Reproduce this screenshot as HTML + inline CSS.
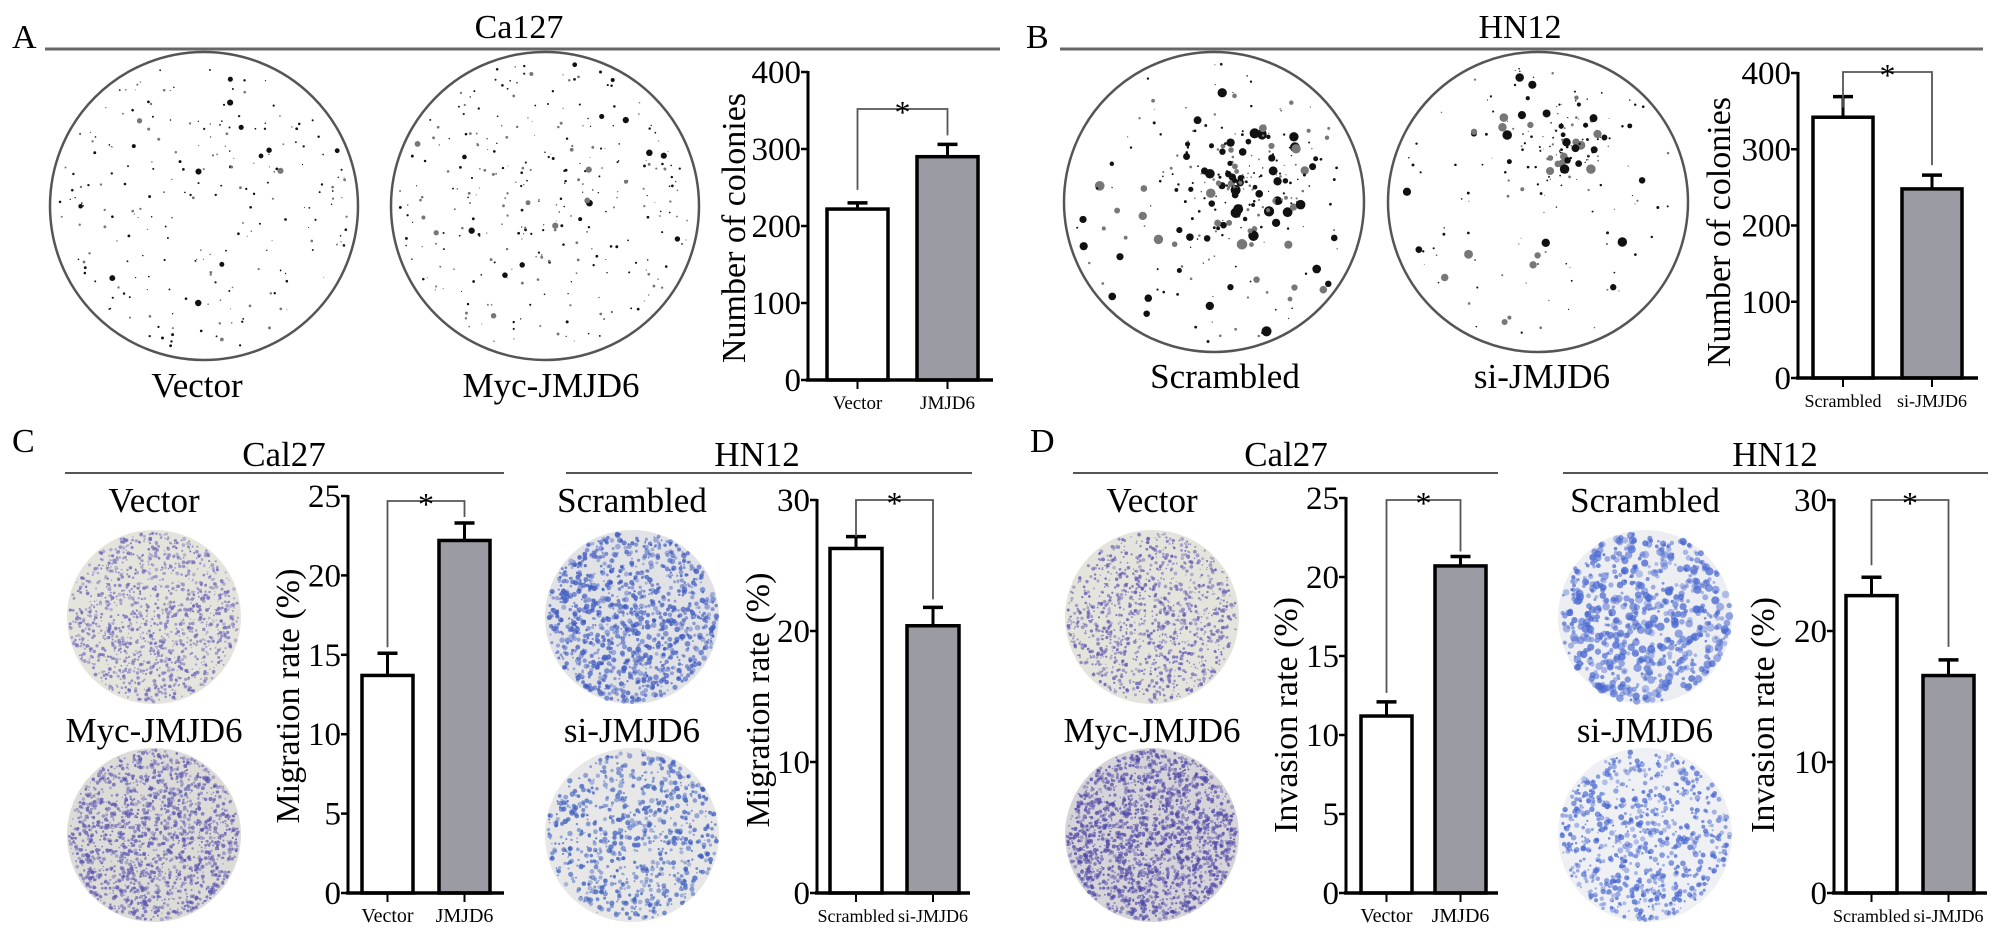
<!DOCTYPE html>
<html><head><meta charset="utf-8"><style>
html,body{margin:0;padding:0;background:#fff;}
svg{display:block;}
svg text{font-family:"Liberation Serif","DejaVu Serif",serif;}
</style></head><body>
<svg id="fig" width="2008" height="936" viewBox="0 0 2008 936" xmlns="http://www.w3.org/2000/svg" font-family="Liberation Serif, serif">
<g id="plates"></g>
<g id="headers">
 <text x="12" y="48" font-size="34">A</text>
 <text x="519" y="38" font-size="34" text-anchor="middle">Ca127</text>
 <line x1="45" y1="49" x2="1000" y2="49" stroke="#666" stroke-width="3"/>
 <text x="1026" y="48" font-size="34">B</text>
 <text x="1520" y="38" font-size="34" text-anchor="middle">HN12</text>
 <line x1="1060" y1="49" x2="1983" y2="49" stroke="#666" stroke-width="3"/>
 <text x="12" y="452" font-size="34">C</text>
 <text x="284" y="466" font-size="35" text-anchor="middle">Cal27</text>
 <line x1="65" y1="473" x2="504" y2="473" stroke="#555" stroke-width="2"/>
 <text x="757" y="466" font-size="35" text-anchor="middle">HN12</text>
 <line x1="566" y1="473" x2="972" y2="473" stroke="#555" stroke-width="2"/>
 <text x="1030" y="452" font-size="34">D</text>
 <text x="1286" y="466" font-size="35" text-anchor="middle">Cal27</text>
 <line x1="1073" y1="473" x2="1498" y2="473" stroke="#555" stroke-width="2"/>
 <text x="1775" y="466" font-size="35" text-anchor="middle">HN12</text>
 <line x1="1563" y1="473" x2="1988" y2="473" stroke="#555" stroke-width="2"/>
</g>
<g id="plate-labels">
 <text x="197" y="397" font-size="35" text-anchor="middle">Vector</text>
 <text x="551" y="397" font-size="35" text-anchor="middle">Myc-JMJD6</text>
 <text x="1225" y="388" font-size="35" text-anchor="middle">Scrambled</text>
 <text x="1542" y="388" font-size="35" text-anchor="middle">si-JMJD6</text>
 <text x="154" y="512" font-size="35" text-anchor="middle">Vector</text>
 <text x="154" y="742" font-size="35" text-anchor="middle">Myc-JMJD6</text>
 <text x="632" y="512" font-size="35" text-anchor="middle">Scrambled</text>
 <text x="632" y="742" font-size="35" text-anchor="middle">si-JMJD6</text>
 <text x="1152" y="512" font-size="35" text-anchor="middle">Vector</text>
 <text x="1152" y="742" font-size="35" text-anchor="middle">Myc-JMJD6</text>
 <text x="1645" y="512" font-size="35" text-anchor="middle">Scrambled</text>
 <text x="1645" y="742" font-size="35" text-anchor="middle">si-JMJD6</text>
</g>
<g id="charts"></g>
</svg>
<script>
// ---- chart data ----
const catsCal = ["Vector", "JMJD6"];
const catsHN = ["Scrambled", "si-JMJD6"];
const colA_values = [222, 290];
const colA_errors = [8, 16];
const colB_values = [342, 248];
const colB_errors = [27, 18];
const migC1_values = [13.7, 22.2];
const migC1_errors = [1.4, 1.1];
const migC2_values = [26.3, 20.4];
const migC2_errors = [0.9, 1.4];
const invD1_values = [11.2, 20.7];
const invD1_errors = [0.9, 0.6];
const invD2_values = [22.7, 16.6];
const invD2_errors = [1.4, 1.2];
const ticksColonies = [0, 100, 200, 300, 400];
const ticks25 = [0, 5, 10, 15, 20, 25];
const ticks30 = [0, 10, 20, 30];

const NS = "http://www.w3.org/2000/svg";
function mk(tag, attrs, parent) {
  const e = document.createElementNS(NS, tag);
  for (const k in attrs) e.setAttribute(k, attrs[k]);
  parent.appendChild(e);
  return e;
}

// ---- plates (texture, not data) ----
let seed = 12345;
function rnd() { seed = (seed * 1103515245 + 12345) % 2147483648; return seed / 2147483648; }
const platesG = document.getElementById('plates');
function colonyPlate(cx, cy, r, n, big, bigMax, clx, cly, clr, cln, name) {
  const g = mk('g', {}, platesG);
  
  
  mk('circle', {cx: cx, cy: cy, r: r, fill: '#fff', stroke: '#555', 'stroke-width': 2.5}, g);
  for (let i = 0; i < n + cln; i++) {
    let px, py;
    if (i < n) {
      const a = rnd() * Math.PI * 2, d = Math.sqrt(rnd()) * (r - 8);
      px = cx + Math.cos(a) * d; py = cy + Math.sin(a) * d;
    } else {
      const a = rnd() * Math.PI * 2, d = rnd() * clr;
      px = clx + Math.cos(a) * d; py = cly + Math.sin(a) * d;
    }
    const s = rnd() < big ? 1.8 + rnd() * bigMax : 0.5 + rnd() * 1.0;
    mk('circle', {cx: px, cy: py, r: s, fill: rnd() < 0.6 ? '#111' : '#777'}, g);
  }
}
colonyPlate(204, 206, 154, 230, 0.06, 1.5, 204, 206, 1, 0, 'colony-plate-vector');
colonyPlate(545, 206, 154, 300, 0.1, 1.8, 545, 206, 1, 0, 'colony-plate-myc-jmjd6');
colonyPlate(1214, 202, 150, 140, 0.3, 3.5, 1240, 180, 70, 160, 'colony-plate-scrambled');
colonyPlate(1538, 202, 150, 110, 0.2, 3, 1560, 150, 55, 90, 'colony-plate-si-jmjd6');

function stainPlate(cx, cy, r, n, col, bg, sz, name) {
  const g = mk('g', {}, platesG);
  
  
  mk('circle', {cx: cx, cy: cy, r: r, fill: bg}, g);
  for (let i = 0; i < n; i++) {
    const a = rnd() * Math.PI * 2, d = Math.sqrt(rnd()) * (r - 2);
    mk('circle', {cx: cx + Math.cos(a) * d, cy: cy + Math.sin(a) * d, r: sz * (0.4 + rnd() * 0.9), fill: col, opacity: 0.35 + rnd() * 0.45}, g);
  }
}
stainPlate(154, 617, 87, 1300, '#6a64b8', '#e4e3dc', 1.5, 'migration-plate-vector');
stainPlate(154, 835, 87, 1700, '#5a56b0', '#dcdbd8', 1.6, 'migration-plate-myc');
stainPlate(632, 617, 87, 1100, '#3f5ac0', '#e0e2e6', 2.2, 'migration-plate-scrambled');
stainPlate(632, 835, 87, 800, '#4060c0', '#e6e7e6', 2.1, 'migration-plate-si');
stainPlate(1152, 617, 87, 1200, '#5e58b0', '#e4e3dc', 1.5, 'invasion-plate-vector');
stainPlate(1152, 835, 87, 2000, '#4e48a8', '#d6d4d8', 1.7, 'invasion-plate-myc');
stainPlate(1645, 617, 87, 650, '#4a68d0', '#eceef2', 3.2, 'invasion-plate-scrambled');
stainPlate(1645, 835, 87, 750, '#4a68d0', '#eef0f4', 2.3, 'invasion-plate-si');

// ---- bar charts ----
const chartsG = document.getElementById('charts');
function barChart(cfg) {
  const g = mk('g', {}, chartsG);
  
  
  const maxV = cfg.ticks[cfg.ticks.length - 1];
  const yS = v => cfg.y0 - (v / maxV) * (cfg.y0 - cfg.yTop);
  const ax = mk('line', {x1: cfg.ax, y1: cfg.yTop - 1, x2: cfg.ax, y2: cfg.y0, stroke: '#000', 'stroke-width': 3}, g);
  
  
  cfg.ticks.forEach(t => {
    const y = yS(t);
    const tl = mk('line', {x1: cfg.ax - 7, y1: y, x2: cfg.ax, y2: y, stroke: '#000', 'stroke-width': 2.5}, g);
    
    
    const tx = mk('text', {x: cfg.ax - 7, y: y + 11, 'font-size': 33, 'text-anchor': 'end'}, g);
    tx.textContent = t;
    
    
  });
  const tt = mk('text', {x: 0, y: 0, 'font-size': 34, 'text-anchor': 'middle', transform: 'translate(' + (cfg.titleX + 12) + ',' + cfg.titleY + ') rotate(-90)'}, g);
  tt.textContent = cfg.title;
  
  
  const centers = [];
  cfg.values.forEach((v, i) => {
    const x = cfg.barX[i], w = cfg.barW, yt = yS(v);
    const cx = x + w / 2; centers.push(cx);
    const b = mk('rect', {x: x, y: yt, width: w, height: cfg.y0 - yt, fill: i === 0 ? '#fff' : '#9b9ba3', stroke: '#000', 'stroke-width': 3.5}, g);
    
    
    const ye = yS(v + cfg.errors[i]);
    const el = mk('line', {x1: cx, y1: yt, x2: cx, y2: ye, stroke: '#000', 'stroke-width': 3}, g);
    
    
    const ec = mk('line', {x1: cx - 10, y1: ye, x2: cx + 10, y2: ye, stroke: '#000', 'stroke-width': 3.5}, g);
    
    
    const xt = mk('line', {x1: cx, y1: cfg.y0, x2: cx, y2: cfg.y0 + 9, stroke: '#000', 'stroke-width': 2}, g);
    
    
    const lb = mk('text', {x: cx, y: cfg.y0 + 29, 'font-size': cfg.catFont, 'text-anchor': 'middle'}, g);
    lb.textContent = cfg.cats[i];
    
    
  });
  const bl = mk('line', {x1: cfg.ax - 2, y1: cfg.y0, x2: cfg.endX, y2: cfg.y0, stroke: '#000', 'stroke-width': 3.5}, g);
  
  
  const by = cfg.brY;
  const l0 = yS(cfg.values[0] + cfg.errors[0]) - cfg.gap[0];
  const l1 = yS(cfg.values[1] + cfg.errors[1]) - cfg.gap[1];
  const br = mk('polyline', {points: centers[0] + ',' + l0 + ' ' + centers[0] + ',' + by + ' ' + centers[1] + ',' + by + ' ' + centers[1] + ',' + l1, fill: 'none', stroke: '#555', 'stroke-width': 1.8}, g);
  
  
  const st = mk('text', {x: (centers[0] + centers[1]) / 2, y: by + 14, 'font-size': 32, 'text-anchor': 'middle'}, g);
  st.textContent = '*';
  
  
}

barChart({name: 'chart-a-colonies', ax: 808, y0: 380, yTop: 72, ticks: ticksColonies, values: colA_values, errors: colA_errors, cats: catsCal, barX: [827, 917], barW: 61, endX: 993, title: 'Number of colonies', titleX: 733, titleY: 228, brY: 109, gap: [13, 9], catFont: 19});
barChart({name: 'chart-b-colonies', ax: 1798, y0: 378, yTop: 73, ticks: ticksColonies, values: colB_values, errors: colB_errors, cats: catsHN, barX: [1813, 1902], barW: 60, endX: 1978, title: 'Number of colonies', titleX: 1718, titleY: 232, brY: 72, gap: [-11, 10], catFont: 18});
barChart({name: 'chart-c1-migration', ax: 348, y0: 893, yTop: 496, ticks: ticks25, values: migC1_values, errors: migC1_errors, cats: catsCal, barX: [362, 439], barW: 51, endX: 504, title: 'Migration rate (%)', titleX: 287, titleY: 696, brY: 501, gap: [6, 6], catFont: 20});
barChart({name: 'chart-c2-migration', ax: 817, y0: 893, yTop: 500, ticks: ticks30, values: migC2_values, errors: migC2_errors, cats: catsHN, barX: [830, 907], barW: 52, endX: 970, title: 'Migration rate (%)', titleX: 757, titleY: 700, brY: 500, gap: [0, 8], catFont: 18});
barChart({name: 'chart-d1-invasion', ax: 1346, y0: 893, yTop: 498, ticks: ticks25, values: invD1_values, errors: invD1_errors, cats: catsCal, barX: [1361, 1435], barW: 51, endX: 1498, title: 'Invasion rate (%)', titleX: 1285, titleY: 715, brY: 500, gap: [9, 5], catFont: 20});
barChart({name: 'chart-d2-invasion', ax: 1834, y0: 893, yTop: 500, ticks: ticks30, values: invD2_values, errors: invD2_errors, cats: catsHN, barX: [1846, 1923], barW: 51, endX: 1987, title: 'Invasion rate (%)', titleX: 1762, titleY: 715, brY: 500, gap: [12, 13], catFont: 18});
</script>
</body></html>
